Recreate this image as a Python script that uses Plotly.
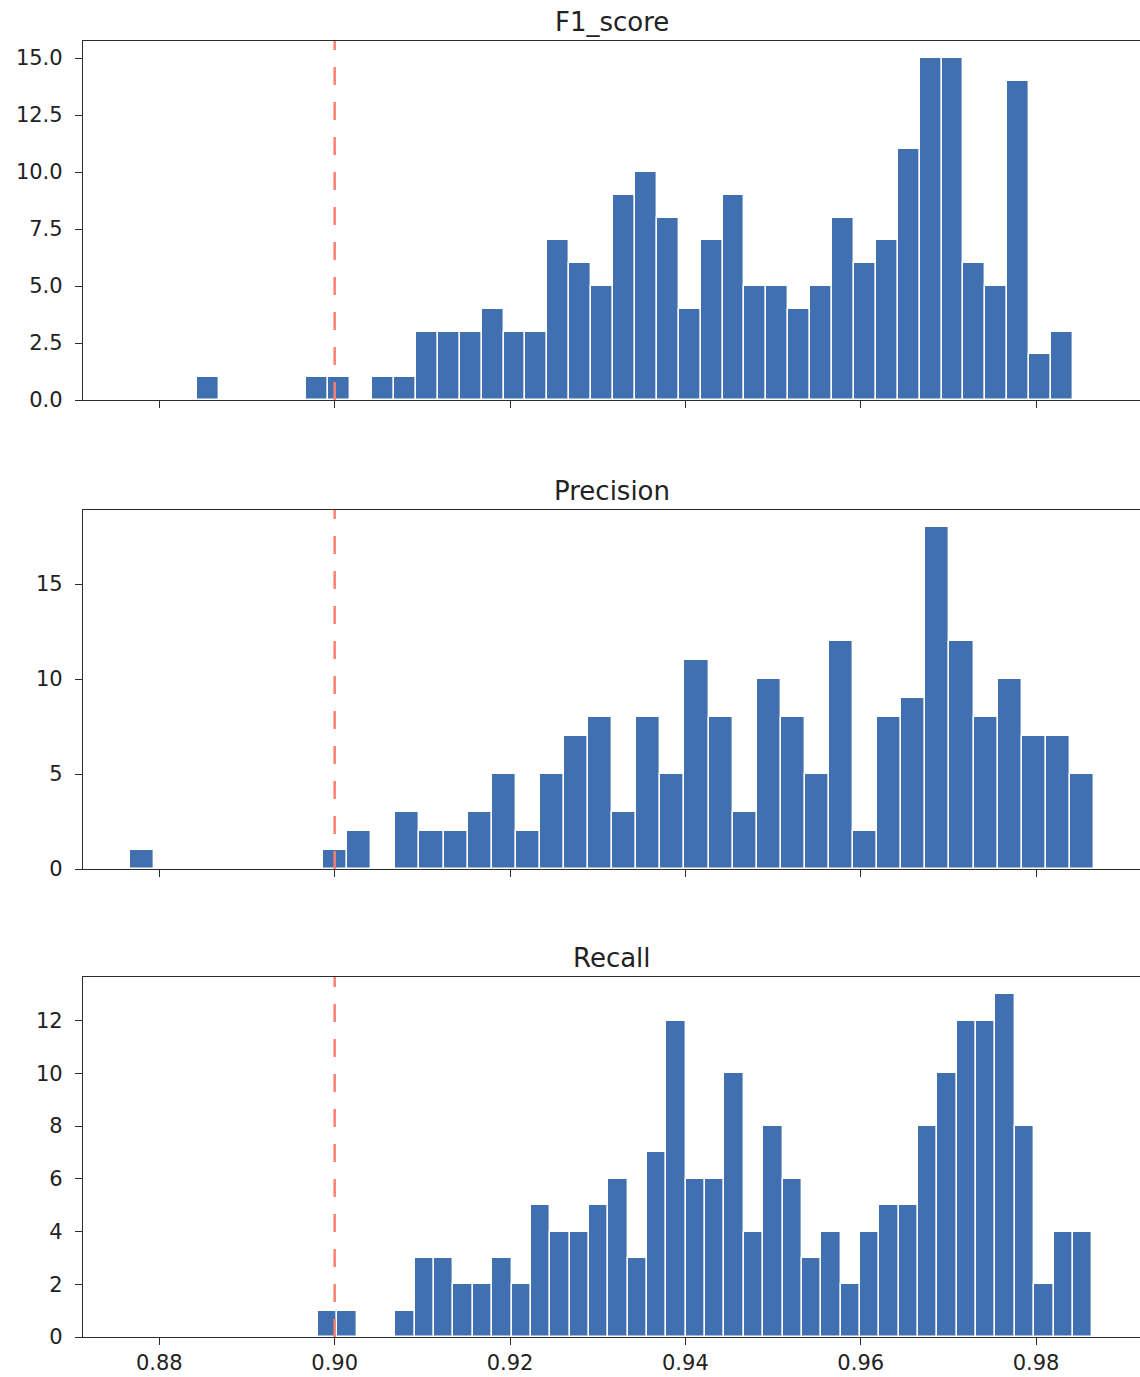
import numpy as np
import plotly.graph_objects as go

# ---------------- data ----------------
titles = ["F1_score", "Precision", "Recall"]

# histogram range (min, max) of each metric, 40 equal bins each
f1_range = [0.8843, 0.9842]
precision_range = [0.8767, 0.9866]
recall_range = [0.8981, 0.9864]

f1_counts = [1, 0, 0, 0, 0, 1, 1, 0, 1, 1,
             3, 3, 3, 4, 3, 3, 7, 6, 5, 9,
             10, 8, 4, 7, 9, 5, 5, 4, 5, 8,
             6, 7, 11, 15, 15, 6, 5, 14, 2, 3]
precision_counts = [1, 0, 0, 0, 0, 0, 0, 0, 1, 2,
                    0, 3, 2, 2, 3, 5, 2, 5, 7, 8,
                    3, 8, 5, 11, 8, 3, 10, 8, 5, 12,
                    2, 8, 9, 18, 12, 8, 10, 7, 7, 5]
recall_counts = [1, 1, 0, 0, 1, 3, 3, 2, 2, 3,
                 2, 5, 4, 4, 5, 6, 3, 7, 12, 6,
                 6, 10, 4, 8, 6, 3, 4, 2, 4, 5,
                 5, 8, 10, 12, 12, 13, 8, 2, 4, 4]

threshold = 0.90
x_tick_vals = [0.88, 0.90, 0.92, 0.94, 0.96, 0.98]
x_tick_text = ["0.88", "0.90", "0.92", "0.94", "0.96", "0.98"]
y_dticks = [2.5, 5, 2]
y_formats = [".1f", "d", "d"]
n_bins = 40

# ---------------- figure ----------------
W, H = 1140, 1377
m_l, m_r, m_t, m_b = 83, 0, 41, 40
plot_h = H - m_t - m_b


def frac(px_from_top):
    return (H - m_b - px_from_top) / plot_h


domains = [
    [frac(400), frac(41)],
    [frac(869), frac(510)],
    [frac(1337), frac(977)],
]

bar_color = "#4170b0"
axis_color = "#2b2b2b"
text_color = "#222222"
font_family = "DejaVu Sans"
x_range = [0.8713, 0.99185]

fig = go.Figure()

series = [(f1_range, f1_counts), (precision_range, precision_counts), (recall_range, recall_counts)]
for i, (rng, counts) in enumerate(series):
    edges = np.linspace(rng[0], rng[1], n_bins + 1)
    centers = (edges[:-1] + edges[1:]) / 2
    widths = np.diff(edges)
    suffix = "" if i == 0 else str(i + 1)
    fig.add_trace(go.Bar(
        x=centers, y=counts, width=widths,
        marker=dict(color=bar_color, line=dict(color="white", width=1.4)),
        xaxis="x" + suffix, yaxis="y" + suffix,
        showlegend=False,
    ))

layout = dict(
    width=W, height=H,
    margin=dict(l=m_l, r=m_r, t=m_t, b=m_b),
    paper_bgcolor="white", plot_bgcolor="white",
    bargap=0,
    font=dict(family=font_family, size=21, color=text_color),
    showlegend=False,
)

max_counts = [max(f1_counts), max(precision_counts), max(recall_counts)]
annotations = []
shapes = []
for i in range(3):
    suffix = "" if i == 0 else str(i + 1)
    xa = dict(
        domain=[0, 1], range=x_range, anchor="y" + suffix,
        showline=True, linecolor=axis_color, linewidth=1.3, mirror=True,
        ticks="outside", ticklen=7, tickwidth=1.3, tickcolor=axis_color,
        tickvals=x_tick_vals, ticktext=x_tick_text,
        showticklabels=(i == 2), showgrid=False, zeroline=False,
        tickfont=dict(size=21, family=font_family, color=text_color),
    )
    if i > 0:
        xa["matches"] = "x"
    ya = dict(
        domain=domains[i], anchor="x" + suffix,
        range=[0, max_counts[i] * 1.05],
        showline=True, linecolor=axis_color, linewidth=1.3, mirror=False,
        ticks="outside", ticklen=7, tickwidth=1.3, tickcolor=axis_color,
        dtick=y_dticks[i], tick0=0, tickformat=y_formats[i],
        showgrid=False, zeroline=False,
        tickfont=dict(size=21, family=font_family, color=text_color),
        ticklabelstandoff=8,
    )
    layout["xaxis" + suffix] = xa
    layout["yaxis" + suffix] = ya

    annotations.append(dict(
        text=titles[i], xref="paper", yref="paper",
        x=0.5, y=domains[i][1], xanchor="center", yanchor="bottom",
        yshift=2, showarrow=False,
        font=dict(size=26, family=font_family, color=text_color),
    ))
    shapes.append(dict(
        type="line", xref="x" + suffix, yref="y" + suffix + " domain",
        x0=threshold, x1=threshold, y0=0, y1=1,
        line=dict(color="#fa8072", width=2.5, dash="18px,17px"),
        layer="above",
    ))

layout["annotations"] = annotations
layout["shapes"] = shapes
fig.update_layout(**layout)

fig.write_html(
    "out.html",
    config={"displayModeBar": False},
    post_script="document.body.style.margin='0';document.body.style.overflow='hidden';",
)
